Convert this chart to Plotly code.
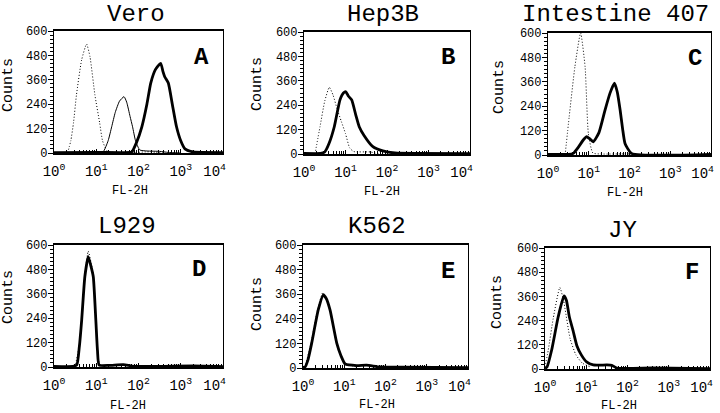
import plotly.graph_objects as go

# ---------------- data (FL-2H value, counts) ----------------
panel_titles = ["Vero", "Hep3B", "Intestine 407", "L929", "K562", "JY"]
panel_letters = ["A", "B", "C", "D", "E", "F"]
y_ticks = [0, 120, 240, 360, 480, 600]
x_ticks = [1, 10, 100, 1000, 10000]
x_tick_labels = ["10<sup>0</sup>", "10<sup>1</sup>", "10<sup>2</sup>", "10<sup>3</sup>",
                 "10<sup>4</sup>\u00a0\u00a0"]

# Panel A (Vero)
A_ctrl_x = [2.1, 2.5, 2.9, 3.4, 4.5, 5.9, 7.1, 9.3, 12.0, 14.1, 17.8, 25, 60, 160, 250, 400]
A_ctrl_y = [0, 60, 150, 285, 457, 536, 474, 285, 150, 60, 12, 3, 0, 6, 4, 0]
A_mid_x = [10, 14.5, 19.1, 23.2, 28.2, 35.5, 45.4, 52.5, 63.1, 72.4, 85.1, 107, 158, 316, 501, 1000]
A_mid_y = [0, 5, 60, 129, 200, 255, 277, 250, 180, 129, 60, 15, 10, 8, 3, 0]
A_main_x = [1, 10, 40, 69, 89, 120, 158, 195, 251, 335, 380, 417, 508, 631, 794, 1000, 1259, 1995, 10000]
A_main_y = [2, 3, 2, 5, 50, 129, 240, 344, 410, 441, 400, 375, 344, 240, 129, 60, 20, 5, 2]

# Panel B (Hep3B)
B_ctrl_x = [1.84, 2.43, 3.16, 4.07, 5.01, 6.31, 7.94, 10.0, 12.6, 15.8, 39.8, 63.1]
B_ctrl_y = [0, 134, 260, 328, 290, 220, 160, 100, 30, 12, 10, 0]
B_main_x = [1, 2.51, 3.16, 3.98, 5.37, 7.36, 8.91, 10.2, 11.7, 14.1, 17.8, 21.4, 28.2, 45.7, 79.4, 155, 10000]
B_main_y = [3, 3, 10, 50, 134, 266, 300, 306, 285, 266, 190, 134, 90, 36, 15, 5, 2]

# Panel C (Intestine 407)
C_ctrl_x = [2.63, 3.31, 4.57, 6.31, 8.13, 9.77, 12.6, 20, 100, 200]
C_ctrl_y = [0, 188, 434, 600, 434, 107, 10, 5, 5, 0]
C_main_x = [1, 3.16, 4.17, 5.62, 7.41, 8.91, 10.5, 12.9, 17.8, 25.1, 33.1, 42.7, 50.1, 58.9, 67.6, 77.6, 112, 10000]
C_main_y = [3, 3, 8, 40, 75, 90, 80, 65, 110, 221, 303, 353, 310, 221, 130, 57, 8, 3]

# Panel D (L929)
D_ctrl_x = [3.16, 3.98, 4.57, 5.5, 6.46, 7.59, 8.71, 9.77, 11.2, 12.6]
D_ctrl_y = [0, 110, 250, 470, 570, 510, 440, 220, 40, 5]
D_main_x = [1, 2.82, 3.47, 3.98, 4.52, 5.37, 6.46, 7.41, 8.51, 9.77, 10.7, 11.7, 20, 43.7, 79.4, 1995, 10000]
D_main_y = [3, 3, 10, 100, 231, 444, 543, 500, 444, 231, 80, 10, 8, 12, 3, 5, 2]

# Panel E (K562)
E_ctrl_x = [1.12, 1.58, 2.29, 3.02, 3.63, 4.57, 6.61, 10, 20]
E_ctrl_y = [5, 125, 290, 368, 345, 280, 115, 25, 5]
E_main_x = [1, 1.12, 1.32, 1.62, 2.34, 3.09, 3.63, 4.52, 6.61, 8.32, 10.5, 20, 34.7, 74.1, 251, 10000]
E_main_y = [3, 5, 40, 120, 283, 356, 340, 283, 120, 60, 20, 12, 14, 5, 4, 2]

# Panel F (JY)
F_ctrl_x = [1, 1.2, 1.58, 2.29, 2.82, 4.07, 5.62, 7.94, 12.6]
F_ctrl_y = [10, 94, 250, 404, 340, 150, 70, 30, 10]
F_main_x = [1, 1.12, 1.45, 2.09, 2.88, 3.31, 3.89, 4.79, 5.89, 7.59, 10.2, 14.8, 31.6, 41.7, 55, 398, 10000]
F_main_y = [3, 10, 94, 259, 362, 340, 259, 190, 117, 70, 35, 20, 20, 18, 5, 5, 2]

panels = [
    [(A_ctrl_x, A_ctrl_y, "dot"), (A_mid_x, A_mid_y, "thin"), (A_main_x, A_main_y, "thick")],
    [(B_ctrl_x, B_ctrl_y, "dot"), (B_main_x, B_main_y, "thick")],
    [(C_ctrl_x, C_ctrl_y, "dot"), (C_main_x, C_main_y, "thick")],
    [(D_ctrl_x, D_ctrl_y, "dot"), (D_main_x, D_main_y, "thick")],
    [(E_ctrl_x, E_ctrl_y, "dot"), (E_main_x, E_main_y, "thick")],
    [(F_ctrl_x, F_ctrl_y, "dot"), (F_main_x, F_main_y, "thick")],
]

# ---------------- layout (pixel boxes) ----------------
W, H = 720, 413
boxes = [(54, 223, 31, 153), (304, 470, 32, 154), (548, 711, 33, 155),
         (54, 223, 245, 367), (303, 468, 245, 368), (545, 710, 248, 369)]
title_pos = [(136, 10), (383, 10), (615, 11), (127, 226), (377, 226), (622, 231)]
letter_pos = [(201, 57), (448, 57), (695, 58), (199, 269), (448, 271), (692, 272)]
counts_pos = [(8, 85), (257, 84), (500, 87), (8, 297), (257, 304), (497, 302)]
fl_pos = [(130, 191), (382, 192), (625, 193), (128, 406), (377, 405), (619, 406)]

FONT = "Liberation Mono, Courier New, monospace"

fig = go.Figure()
styles = {
    "dot": dict(color="black", width=1.0, dash="1px,2px"),
    "thin": dict(color="black", width=1.0),
    "thick": dict(color="black", width=2.8),
}

layout = dict(
    width=W, height=H, margin=dict(l=0, r=0, t=0, b=0, autoexpand=False),
    paper_bgcolor="white", plot_bgcolor="white", showlegend=False,
    font=dict(family=FONT, color="black"),
)
annotations = []

def px_x(v):
    return v / W

def px_y(v):
    return 1 - v / H

for i, curves in enumerate(panels):
    n = i + 1
    xa = "x" if n == 1 else f"x{n}"
    ya = "y" if n == 1 else f"y{n}"
    for cx, cy, st in curves:
        fig.add_trace(go.Scatter(x=cx, y=cy, mode="lines", line=dict(**styles[st], shape="spline", smoothing=0.5),
                                 xaxis=xa, yaxis=ya, hoverinfo="skip"))
    l, r, t, b = boxes[i]
    layout["xaxis" if n == 1 else f"xaxis{n}"] = dict(
        domain=[px_x(l), px_x(r)], anchor=ya, type="log", range=[0, 4], automargin=False,
        tickvals=x_ticks, ticktext=x_tick_labels, ticks="inside", ticklen=4,
        tickcolor="black", tickwidth=1.2, ticklabeloverflow="allow", ticklabelstandoff=4,
        minor=dict(ticks="inside", ticklen=3, tickcolor="black", dtick="D1", showgrid=False),
        showline=True, linecolor="black", linewidth=1.5, mirror=True,
        showgrid=False, zeroline=False,
        tickfont=dict(family=FONT, size=14, color="black"),
    )
    layout["yaxis" if n == 1 else f"yaxis{n}"] = dict(
        domain=[px_y(b), px_y(t)], anchor=xa, range=[0, 600], automargin=False,
        tickvals=y_ticks, ticks="outside", ticklen=5, tickcolor="black", tickwidth=1.2,
        ticklabelstandoff=-2,
        minor=dict(ticks="outside", ticklen=3, tickcolor="black", dtick=20, showgrid=False),
        showline=True, linecolor="black", linewidth=1.2, mirror=True,
        showgrid=False, zeroline=False,
        tickfont=dict(family=FONT, size=12, color="black"),
    )
    tx, ty = title_pos[i]
    if i < 3:
        annotations.append(dict(text=panel_titles[i], x=px_x(tx), y=1.0, xref="paper", yref="paper",
                                showarrow=False, font=dict(family=FONT, size=24, color="black"),
                                xanchor="center", yanchor="top", borderpad=0))
    else:
        annotations.append(dict(text=panel_titles[i], x=px_x(tx), y=px_y(ty), xref="paper", yref="paper",
                                showarrow=False, font=dict(family=FONT, size=24, color="black"),
                                xanchor="center", yanchor="middle"))
    lx, ly = letter_pos[i]
    annotations.append(dict(text="<b>" + panel_letters[i] + "</b>", x=px_x(lx), y=px_y(ly), xref="paper", yref="paper",
                            showarrow=False, font=dict(family=FONT, size=24, color="black"),
                            xanchor="center", yanchor="middle"))
    cxp, cyp = counts_pos[i]
    annotations.append(dict(text="Counts", x=px_x(cxp), y=px_y(cyp), xref="paper", yref="paper",
                            showarrow=False, textangle=-90, font=dict(family=FONT, size=15, color="black"),
                            xanchor="center", yanchor="middle"))
    fx, fy = fl_pos[i]
    annotations.append(dict(text="FL-2H", x=px_x(fx), y=px_y(fy), xref="paper", yref="paper",
                            showarrow=False, font=dict(family=FONT, size=12, color="black"),
                            xanchor="center", yanchor="middle"))

layout["annotations"] = annotations
fig.update_layout(**layout)
fig.write_html("out.html", config={"displayModeBar": False},
               post_script="document.body.style.margin='0';document.body.style.overflow='hidden';")
